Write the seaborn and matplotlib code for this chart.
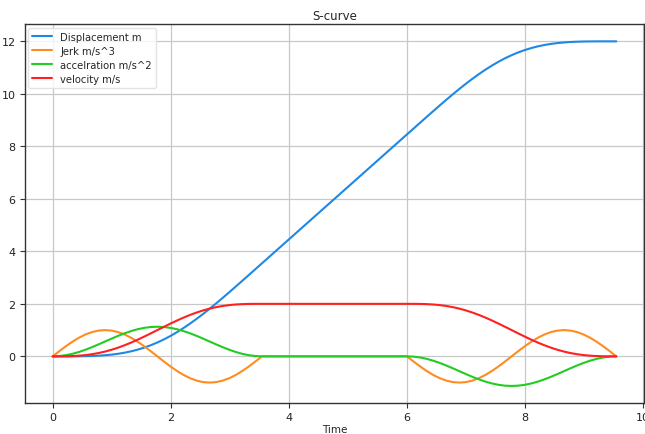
import matplotlib
matplotlib.use("Agg")
import matplotlib.pyplot as plt
import seaborn as sns
import pandas as pd

# time samples (s): acceleration phase, then deceleration phase (cruise in between)
time = [0.0, 0.1108, 0.2216, 0.3323, 0.4431, 0.5539, 0.6647, 0.7754, 0.8862,
        0.9970, 1.1078, 1.2186, 1.3293, 1.4401, 1.5509, 1.6617, 1.7725,
        1.8832, 1.9940, 2.1048, 2.2156, 2.3263, 2.4371, 2.5479, 2.6587,
        2.7695, 2.8802, 2.9910, 3.1018, 3.2126, 3.3234, 3.4341, 3.5449,
        6.0, 6.1108, 6.2216, 6.3323, 6.4431, 6.5539, 6.6647, 6.7754, 6.8862,
        6.9970, 7.1078, 7.2186, 7.3293, 7.4401, 7.5509, 7.6617, 7.7725,
        7.8832, 7.9940, 8.1048, 8.2156, 8.3263, 8.4371, 8.5479, 8.6587,
        8.7695, 8.8802, 8.9910, 9.1018, 9.2126, 9.3234, 9.4341, 9.5449]

displacement = [0.0, 0.0000, 0.0002, 0.0009, 0.0028, 0.0067, 0.0138, 0.0251, 0.0420,
                0.0658, 0.0979, 0.1395, 0.1919, 0.2561, 0.3330, 0.4232, 0.5271,
                0.6447, 0.7761, 0.9208, 1.0782, 1.2473, 1.4272, 1.6167, 1.8144,
                2.0191, 2.2293, 2.4439, 2.6615, 2.8811, 3.1020, 3.3234, 3.5449,
                8.4551, 8.6766, 8.8980, 9.1189, 9.3385, 9.5561, 9.7707, 9.9809, 10.1856,
                10.3833, 10.5728, 10.7527, 10.9218, 11.0792, 11.2239, 11.3553, 11.4730,
                11.5768, 11.6670, 11.7439, 11.8081, 11.8605, 11.9021, 11.9342, 11.9580,
                11.9749, 11.9862, 11.9933, 11.9972, 11.9991, 11.9998, 12.0000, 12.0]

jerk = [0.0, 0.1951, 0.3827, 0.5556, 0.7071, 0.8315, 0.9239, 0.9808, 1.0,
        0.9808, 0.9239, 0.8315, 0.7071, 0.5556, 0.3827, 0.1951, 0.0,
        -0.1951, -0.3827, -0.5556, -0.7071, -0.8315, -0.9239, -0.9808, -1.0,
        -0.9808, -0.9239, -0.8315, -0.7071, -0.5556, -0.3827, -0.1951, 0.0,
        0.0, -0.1951, -0.3827, -0.5556, -0.7071, -0.8315, -0.9239, -0.9808, -1.0,
        -0.9808, -0.9239, -0.8315, -0.7071, -0.5556, -0.3827, -0.1951, 0.0,
        0.1951, 0.3827, 0.5556, 0.7071, 0.8315, 0.9239, 0.9808, 1.0,
        0.9808, 0.9239, 0.8315, 0.7071, 0.5556, 0.3827, 0.1951, 0.0]

acceleration = [0.0, 0.0108, 0.0430, 0.0951, 0.1653, 0.2508, 0.3483, 0.4541, 0.5642,
                0.6743, 0.7801, 0.8776, 0.9631, 1.0333, 1.0854, 1.1175, 1.1284,
                1.1175, 1.0854, 1.0333, 0.9631, 0.8776, 0.7801, 0.6743, 0.5642,
                0.4541, 0.3483, 0.2508, 0.1653, 0.0951, 0.0430, 0.0108, 0.0,
                0.0, -0.0108, -0.0430, -0.0951, -0.1653, -0.2508, -0.3483, -0.4541, -0.5642,
                -0.6743, -0.7801, -0.8776, -0.9631, -1.0333, -1.0854, -1.1175, -1.1284,
                -1.1175, -1.0854, -1.0333, -0.9631, -0.8776, -0.7801, -0.6743, -0.5642,
                -0.4541, -0.3483, -0.2508, -0.1653, -0.0951, -0.0430, -0.0108, 0.0]

velocity = [0.0, 0.0004, 0.0032, 0.0107, 0.0249, 0.0478, 0.0809, 0.1253, 0.1817,
            0.2503, 0.3309, 0.4228, 0.5249, 0.6357, 0.7532, 0.8754, 1.0,
            1.1246, 1.2468, 1.3643, 1.4751, 1.5772, 1.6691, 1.7497, 1.8183,
            1.8747, 1.9191, 1.9522, 1.9751, 1.9893, 1.9968, 1.9996, 2.0,
            2.0, 1.9996, 1.9968, 1.9893, 1.9751, 1.9522, 1.9191, 1.8747, 1.8183,
            1.7497, 1.6691, 1.5772, 1.4751, 1.3643, 1.2468, 1.1246, 1.0,
            0.8754, 0.7532, 0.6357, 0.5249, 0.4228, 0.3309, 0.2503, 0.1817,
            0.1253, 0.0809, 0.0478, 0.0249, 0.0107, 0.0032, 0.0004, 0.0]

labels = ["Displacement m", "Jerk m/s^3", "accelration m/s^2", "velocity m/s"]
colors = ["#1e88e5", "#ff8c1f", "#22cc22", "#ff2020"]

df = pd.DataFrame({"Time": time, labels[0]: displacement, labels[1]: jerk,
                   labels[2]: acceleration, labels[3]: velocity})
long = df.melt(id_vars="Time", var_name="series", value_name="value")

sns.set_style("white")
plt.rcParams['font.family'] = ['DejaVu Sans']

fig = plt.figure(figsize=(6.45, 4.35), dpi=100)
ax = fig.add_axes([0.038, 0.0705, 0.961, 0.872])

sns.lineplot(data=long, x="Time", y="value", hue="series", hue_order=labels,
             palette=colors, linewidth=1.5, ax=ax, sort=False, estimator=None)

ax.grid(True, color="#c8c8c8", linewidth=0.9)
ax.set_axisbelow(True)
for s in ax.spines.values():
    s.set_color("#333333")
    s.set_linewidth(1.0)
ax.tick_params(axis="both", labelsize=8, length=3.5, color="#333333",
               labelcolor="#222222", bottom=True, left=True, pad=3)
ax.set_xlim(-0.477, 10.02)
ax.set_ylim(-1.79, 12.66)
ax.set_xticks([0, 2, 4, 6, 8, 10])
ax.set_yticks([0, 2, 4, 6, 8, 10, 12])
ax.set_xlabel("Time", fontsize=7.5, labelpad=1)
ax.set_ylabel("")
ax.set_title("S-curve", fontsize=8.5, pad=3.5)
leg = ax.legend(loc="upper left", fontsize=7.2, frameon=True, handlelength=2.0,
                borderaxespad=0.35, labelspacing=0.4)
leg.get_frame().set_edgecolor("#dddddd")

fig.savefig("out.png", dpi=100)
